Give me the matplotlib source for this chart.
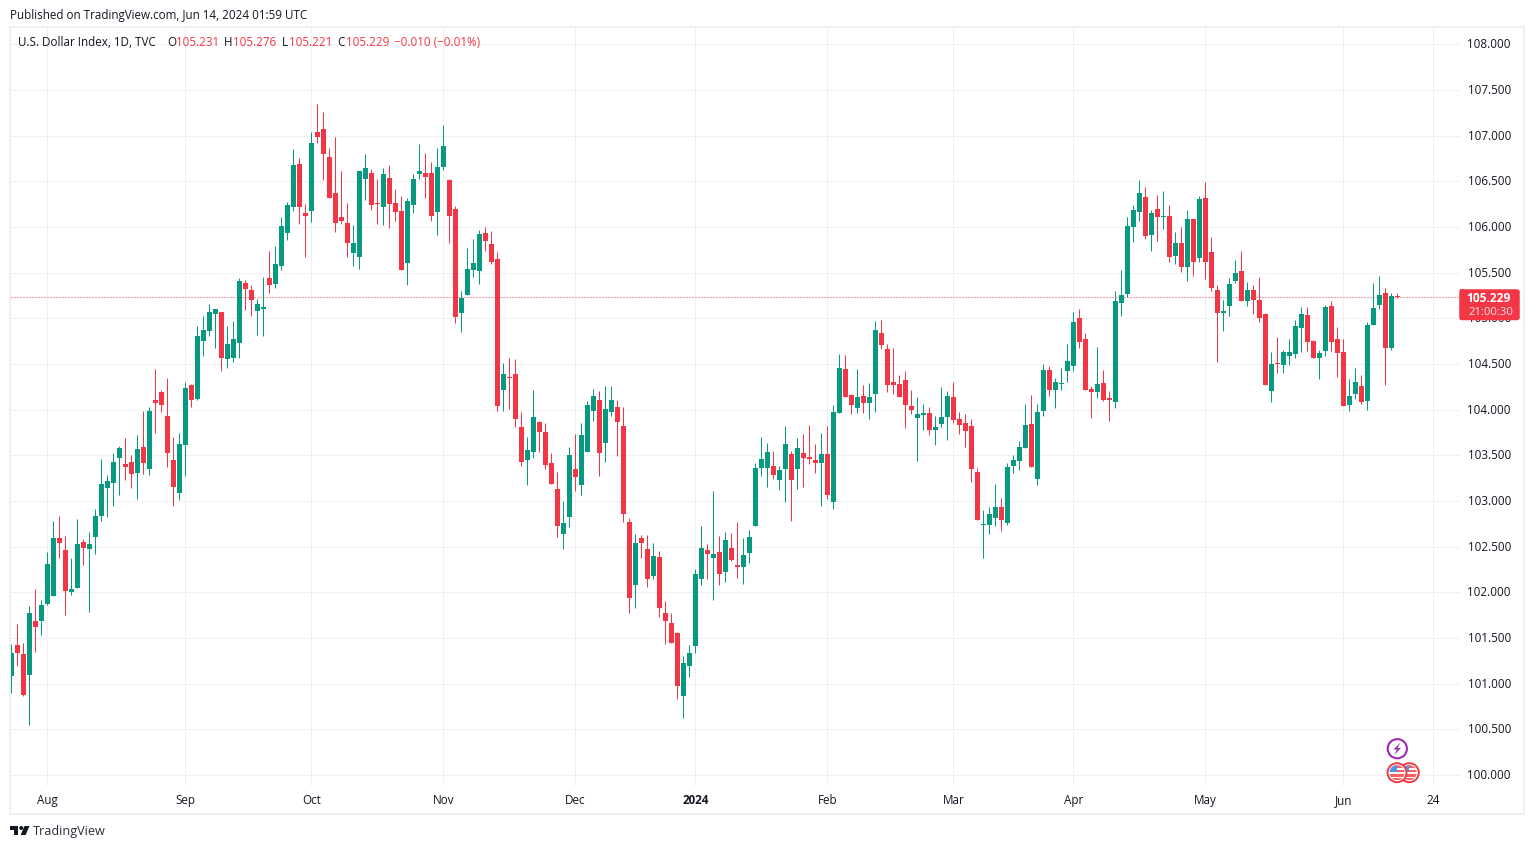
import matplotlib
matplotlib.use("Agg")
import matplotlib.pyplot as plt
from matplotlib.patches import Circle, Rectangle, Polygon, FancyBboxPatch

# ---------- data ----------
opens = [101.08,101.42,101.32,101.09,101.69,101.69,101.87,101.96,102.59,102.46,
102.00,102.05,102.55,102.47,102.61,102.84,103.14,103.20,103.47,103.40,
103.43,103.31,103.59,103.35,104.10,104.19,103.93,103.45,103.09,103.61,
104.27,104.12,104.75,104.86,105.05,105.07,104.55,104.57,104.73,105.39,
105.31,105.08,105.10,105.44,105.38,105.57,105.93,106.22,106.69,106.15,
106.17,107.04,107.07,106.77,106.37,106.11,106.04,105.72,105.67,106.52,
106.59,106.26,106.22,106.54,106.26,106.17,105.61,106.24,106.58,106.59,
106.59,106.16,106.66,106.51,106.20,105.06,105.26,105.53,105.52,105.93,
105.81,105.65,104.21,104.36,104.39,103.81,103.45,103.54,103.86,103.75,
103.42,103.13,102.64,102.82,103.35,103.18,103.54,103.98,104.11,103.63,
103.97,104.03,103.82,102.77,102.08,102.59,102.47,102.18,102.39,101.77,
101.66,101.55,100.86,101.19,101.41,102.14,102.46,102.38,102.44,102.22,
102.48,102.30,102.28,102.43,102.73,103.36,103.36,103.38,103.23,103.35,
103.51,103.35,103.52,103.48,103.45,103.41,103.51,102.99,103.96,104.45,
104.16,104.02,104.15,104.07,104.17,104.84,104.66,104.30,104.28,104.32,
104.04,103.91,103.94,103.96,103.78,103.84,103.92,104.14,103.90,103.85,
103.82,103.32,102.74,102.74,102.81,102.93,102.76,103.38,103.44,103.58,
103.84,103.24,103.98,104.43,104.22,104.28,104.42,104.48,105.00,104.77,
104.23,104.19,104.29,104.12,104.08,105.17,105.27,106.00,106.16,106.33,
105.91,106.20,106.11,106.12,105.68,105.82,105.56,106.09,105.66,106.32,
105.73,105.31,105.06,105.13,105.41,105.52,105.19,105.31,105.20,105.05,
104.20,104.51,104.49,104.59,104.61,104.89,105.04,104.75,104.57,104.64,
105.13,104.77,104.63,104.05,104.17,104.26,104.09,104.93,105.14,105.28,
104.68,105.231]
highs = [101.43,101.65,101.44,101.85,102.04,101.91,102.44,102.78,102.84,102.62,
102.38,102.80,102.58,102.66,102.91,103.46,103.28,103.53,103.60,103.69,
103.50,103.72,103.98,104.03,104.45,104.21,104.35,103.70,103.74,104.30,
104.28,104.91,105.03,105.16,105.10,105.07,104.92,104.97,105.44,105.42,
105.36,105.21,105.45,105.74,105.79,106.11,106.27,106.85,106.76,106.25,
107.04,107.35,107.26,106.86,106.98,106.61,106.26,106.02,106.61,106.80,
106.63,106.53,106.64,106.68,106.42,106.34,106.32,106.58,106.91,106.81,
106.71,106.86,107.12,106.52,106.23,105.30,105.77,105.87,105.97,106.00,
105.96,105.73,104.51,104.56,104.55,103.97,103.70,104.21,103.88,103.85,
103.53,103.32,103.00,103.59,103.73,103.85,104.09,104.23,104.20,104.26,
104.26,104.10,104.03,102.81,102.64,102.63,102.63,102.54,102.45,101.90,
101.77,101.57,101.30,101.42,102.25,102.73,102.53,103.11,102.62,102.66,
102.65,102.77,102.59,102.68,103.42,103.70,103.63,103.55,103.38,103.82,
103.55,103.69,103.73,103.83,103.62,103.74,103.82,104.05,104.61,104.60,
104.17,104.45,104.27,104.29,104.97,104.98,104.72,104.68,104.38,104.42,
104.22,104.14,104.06,104.03,103.93,104.25,104.20,104.30,103.97,103.95,
103.90,103.36,102.90,102.93,103.19,103.03,103.41,103.50,103.66,104.06,
104.16,104.06,104.50,104.48,104.35,104.46,104.72,105.07,105.10,104.84,
104.26,104.69,104.43,104.20,105.30,105.53,106.11,106.24,106.51,106.44,
106.19,106.35,106.39,106.24,105.95,106.00,106.19,106.09,106.34,106.49,
105.89,105.36,105.20,105.44,105.64,105.74,105.40,105.36,105.45,105.06,
104.63,104.80,104.65,104.77,104.98,105.12,105.12,104.76,104.65,105.15,
105.19,104.90,104.77,104.33,104.46,104.38,104.96,105.39,105.46,105.33,
105.28,105.276]
lows = [100.90,101.19,100.86,100.55,101.35,101.53,101.86,101.96,102.37,101.75,
101.97,102.05,102.30,101.78,102.42,102.78,102.82,102.94,103.06,103.23,
103.14,103.02,103.30,103.28,103.74,103.97,103.37,102.94,103.01,103.27,
104.03,104.11,104.59,104.81,104.67,104.42,104.46,104.52,104.56,105.09,
105.02,104.82,104.81,105.28,105.33,105.53,105.86,106.17,106.03,105.67,
106.05,106.92,106.51,106.32,105.95,106.03,105.67,105.57,105.54,106.29,
106.19,106.03,106.02,105.99,106.07,105.53,105.36,106.15,106.53,106.32,
106.07,105.91,106.62,105.82,104.95,104.85,105.26,105.45,105.38,105.74,
105.59,103.99,103.98,104.01,103.81,103.38,103.18,103.47,103.54,103.35,
103.19,102.61,102.47,102.72,103.11,103.06,103.54,103.87,103.27,103.43,
103.93,103.49,102.77,101.77,101.83,102.38,102.06,102.15,101.73,101.43,
101.44,100.83,100.62,101.07,101.34,102.08,102.14,101.91,102.08,102.11,
102.34,102.16,102.09,102.32,102.73,103.27,103.15,103.24,103.12,102.99,
102.78,103.13,103.15,103.40,103.31,102.94,103.02,102.91,103.96,104.14,
103.95,103.96,103.96,103.90,103.97,104.66,104.19,104.17,104.14,103.80,
103.95,103.44,103.78,103.72,103.61,103.81,103.67,103.85,103.73,103.59,
103.21,102.79,102.37,102.64,102.73,102.67,102.74,103.31,103.34,103.58,
103.37,103.18,103.93,104.15,104.02,104.22,104.30,104.42,104.68,104.22,
103.91,104.13,104.09,103.88,104.02,105.03,105.23,105.84,106.07,105.87,
105.74,105.85,105.98,105.62,105.59,105.51,105.41,105.46,105.62,105.43,
105.30,104.52,104.86,105.03,105.39,105.19,105.13,105.05,104.96,104.27,
104.08,104.40,104.40,104.49,104.56,104.63,104.64,104.57,104.34,104.59,
104.64,104.36,104.04,103.99,104.12,104.06,104.00,104.93,105.10,104.27,
104.65,105.221]
closes = [101.34,101.34,100.87,101.77,101.62,101.86,102.31,102.59,102.54,102.01,
102.04,102.53,102.48,102.53,102.84,103.19,103.22,103.43,103.58,103.37,
103.29,103.57,103.41,103.98,104.07,104.05,103.52,103.15,103.62,104.24,
104.10,104.81,104.87,105.07,105.10,104.56,104.72,104.77,105.41,105.32,
105.20,105.16,105.12,105.36,105.59,106.01,106.24,106.68,106.22,106.12,
106.92,106.99,106.80,106.32,106.04,106.07,105.82,105.82,106.61,106.65,
106.24,106.25,106.58,106.25,106.16,105.53,106.28,106.53,106.61,106.55,
106.12,106.66,106.89,106.12,105.01,105.22,105.54,105.60,105.92,105.85,
105.62,104.04,104.39,104.35,103.90,103.43,103.56,103.92,103.76,103.39,
103.19,102.73,102.76,103.50,103.26,103.72,104.05,104.15,103.53,104.01,
104.10,103.86,102.86,101.94,102.54,102.54,102.15,102.40,101.83,101.69,
101.45,100.97,101.23,101.33,102.20,102.49,102.42,102.42,102.20,102.57,
102.35,102.28,102.41,102.60,103.36,103.46,103.54,103.28,103.34,103.62,
103.23,103.58,103.47,103.46,103.41,103.51,103.06,103.97,104.46,104.14,
104.05,104.14,104.07,104.14,104.87,104.71,104.27,104.27,104.14,104.05,
104.00,103.95,103.96,103.78,103.81,103.92,104.15,103.89,103.83,103.77,
103.35,102.79,102.75,102.86,102.93,102.79,103.37,103.45,103.59,103.83,
103.37,103.97,104.43,104.22,104.30,104.29,104.53,104.96,104.74,104.22,
104.19,104.28,104.11,104.11,105.19,105.26,106.01,106.19,106.37,105.90,
106.15,106.11,106.12,105.67,105.82,105.56,106.09,105.62,106.31,105.62,
105.33,105.06,105.08,105.38,105.50,105.19,105.31,105.20,105.00,104.27,
104.50,104.50,104.63,104.63,104.91,105.05,104.74,104.57,104.62,105.12,
104.74,104.62,104.04,104.15,104.30,104.08,104.93,105.11,105.26,104.68,
105.24,105.229]
price_ticks = [100.0,100.5,101.0,101.5,102.0,102.5,103.0,103.5,104.0,104.5,105.0,105.5,106.0,106.5,107.0,107.5,108.0]
time_bars = [6,29,50,72,94,114,136,157,177,199,222,237]
time_labels = ["Aug","Sep","Oct","Nov","Dec","2024","Feb","Mar","Apr","May","Jun","24"]
last_price = 105.229
countdown = "21:00:30"
published = "Published on TradingView.com, Jun 14, 2024 01:59 UTC"
symbol = "U.S. Dollar Index, 1D, TVC"
ohlc_legend = [("O","105.231",167,176),("H","105.276",224,233),("L","105.221",282,289),("C","105.229",337,346)]
change = "\u22120.010 (\u22120.01%)"

# ---------- styling ----------
W, H = 1534, 849
GREEN, RED = "#089981", "#F23645"
GRID, FRAME, INK = "#eff0f2", "#eeeef3", "#131722"
FONT = ["Open Sans", "DejaVu Sans"]
PX = 0.72
TS = 11.6
plt.rcParams["font.family"] = FONT

fig = plt.figure(figsize=(W/100, H/100), dpi=100, facecolor="white")
L, R, T, B = 11, 1460, 28, 786
X0 = 11.3   # pixel position of bar 0, biased so snapping lands on the pixel centre
ax = fig.add_axes([L/W, 1-B/H, (R-L)/W, (B-T)/H])
ax.set_xlim((L-X0)/6, (R-X0)/6)
ax.set_ylim(101-(B-683.6)/91.33, 101+(683.6-T)/91.33)
for s in ax.spines.values():
    s.set_visible(False)
ax.tick_params(left=False, bottom=False, labelleft=False, labelbottom=False)
ax.set_axisbelow(True)
ax.set_yticks(price_ticks)
ax.set_xticks(time_bars)
ax.grid(True, color=GRID, linewidth=PX)

ax.axhline(last_price, color=RED, lw=PX, linestyle=(0, (1, 2)), zorder=2)

idx = list(range(len(opens)))
colors = [GREEN if c >= o else RED for o, c in zip(opens, closes)]
ax.vlines(idx, lows, highs, colors=colors, linewidth=PX, zorder=3, snap=True)
heights = [max(abs(c-o), 0.012) for o, c in zip(opens, closes)]
bottoms = [min(o, c) for o, c in zip(opens, closes)]
ax.bar(idx, heights, bottom=bottoms, width=5/6, color=colors, linewidth=0, zorder=4)

# overlay in pixel coordinates for the chrome
ov = fig.add_axes([0, 0, 1, 1], facecolor="none")
ov.set_xlim(0, W); ov.set_ylim(H, 0); ov.axis("off")
ov.add_patch(Rectangle((10, 27), 1514, 787, fill=False, ec=FRAME, lw=2*PX))

def txt(x, y, s, color=INK, size=TS, ha="left", weight="normal", **kw):
    ov.text(x, y, s, color=color, fontsize=size*PX, ha=ha, va="center", fontweight=weight, **kw)

txt(10, 15, published)
txt(18, 42, symbol)
for lab, val, xl, xv in ohlc_legend:
    txt(xl, 42, lab)
    txt(xv, 42, val, color=RED)
txt(394, 42, change, color=RED)

for p in price_ticks:
    y = 684.1 + (101-p)*91.33
    txt(1511, y, f"{p:.3f}", ha="right")
for b, lab in zip(time_bars, time_labels):
    txt(11.5+6*b, 800.5, lab, ha="center", weight="bold" if lab == "2024" else "normal")

# last price label
ov.add_patch(FancyBboxPatch((1460, 290), 59, 29.5, boxstyle="round,pad=0,rounding_size=2", fc=RED, ec=RED, lw=1.5*PX, zorder=5))
ov.add_patch(Rectangle((1459.5, 289.3), 4, 31, fc=RED, ec="none", zorder=5))
ov.text(1489, 298.3, f"{last_price:.3f}", color="white", fontsize=12*PX, fontweight="bold", ha="center", va="center", zorder=6)
ov.text(1491, 312.5, countdown, color="#ffe3e6", fontsize=11.3*PX, ha="center", va="center", zorder=6)

# event icons
def flag(cx, cy, z):
    c = Circle((cx, cy), 9.5, fc="white", ec=RED, lw=1.6*PX*1.2, zorder=z)
    ov.add_patch(c)
    inner = Circle((cx, cy), 7.5, transform=ov.transData)
    for k, yy in enumerate([-7.5, -3, 1.5, 5]):
        r = Rectangle((cx-8, cy+yy), 16, 2.4, fc="#f7615f", ec="none", zorder=z+0.1)
        ov.add_patch(r); r.set_clip_path(inner)
    can = Rectangle((cx-8, cy-8), 8, 7.5, fc="#4a96e8", ec="none", zorder=z+0.2)
    ov.add_patch(can); can.set_clip_path(inner)
flag(1409.3, 772.7, 7)
flag(1397, 772.7, 8)
ov.add_patch(Circle((1397.3, 748.7), 9.6, fc="white", ec="#9c27b0", lw=1.7*PX*1.2, zorder=7))
ov.add_patch(Polygon([(1400.5,742.5),(1393.5,749.5),(1397,749.5),(1394,755),(1401,748),(1397.5,748)], fc="#9c27b0", ec="none", zorder=8))

# TradingView logo
ov.add_patch(Polygon([(10,826),(18.3,826),(18.3,835),(14,835),(14,829.8),(10,829.8)], fc=INK, ec="none"))
ov.add_patch(Circle((21.2,828), 2, fc=INK, ec="none"))
ov.add_patch(Polygon([(24.5,826),(29.5,826),(25.6,835),(20.6,835)], fc=INK, ec="none"))
txt(33, 832, "TradingView", size=12.6, color="#2a2e39")

fig.savefig("out.png", dpi=100, facecolor="white")
